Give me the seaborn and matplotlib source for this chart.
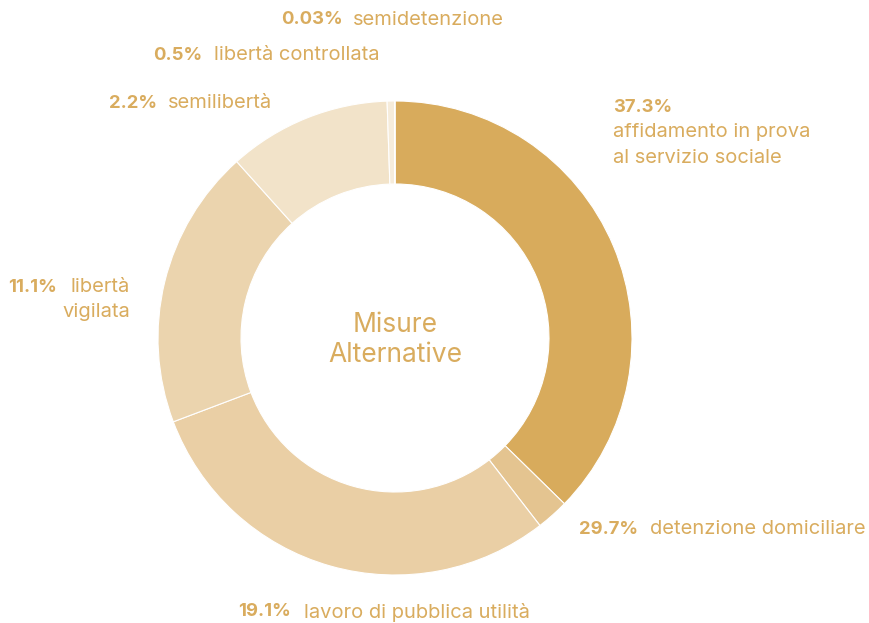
import numpy as np
import pandas as pd
import matplotlib
matplotlib.use("Agg")
import matplotlib.pyplot as plt
import seaborn as sns

# slice order as drawn clockwise from the top
slice_values = [37.3, 2.2, 29.7, 19.1, 11.1, 0.5, 0.03]
slice_colors = ["#D8AB5C", "#E4C490", "#EACFA5", "#EBD4AE", "#F2E3C9", "#F6ECDB", "#FBF6EE"]

# labels as printed on the chart
label_pct = ["37.3%", "29.7%", "19.1%", "11.1%", "2.2%", "0.5%", "0.03%"]
label_names = ["affidamento in prova\nal servizio sociale", "detenzione domiciliare",
               "lavoro di pubblica utilità", "libertà\nvigilata", "semilibertà",
               "libertà controllata", "semidetenzione"]
center_title = "Misure\nAlternative"

gold = "#D9AC5E"

sns.set_theme(style="white")
plt.rcParams['font.family'] = ['Inter', 'DejaVu Sans']

fig = plt.figure(figsize=(8.69, 6.23), dpi=100)
ax = fig.add_axes([0, 0, 1, 1])
cx, cy = 395, 338

ax.pie(slice_values, colors=slice_colors, radius=237, startangle=90, counterclock=False,
       wedgeprops=dict(width=83, edgecolor="white", linewidth=0.8))

ax.set_xlim(-cx, 869 - cx)
ax.set_ylim(-(623 - cy), cy)
ax.set_aspect("equal")
ax.axis("off")

def px(x, y):
    return x - cx, cy - y

fs_b = 13.3
fs_n = 14.5
# (bold end x, name start x, y) in pixels
places = [None, (638, 650, 529), (291, 304, 612), (57, 70, 287),
          (157, 168, 103), (202, 214, 55), (343, 353, 20)]
for i, (pct, name) in enumerate(zip(label_pct, label_names)):
    if i == 0:
        ax.text(*px(613, 107), pct, ha="left", va="center", fontsize=fs_b, fontweight="bold", color=gold)
        for k, line in enumerate(name.split("\n")):
            ax.text(*px(613, 132 + 26 * k), line, ha="left", va="center", fontsize=fs_n, color=gold)
        continue
    bx, nx, y = places[i]
    ax.text(*px(bx, y), pct, ha="right", va="center", fontsize=fs_b, fontweight="bold", color=gold)
    if "\n" in name:
        first, second = name.split("\n")
        ax.text(*px(130, y), first, ha="right", va="center", fontsize=fs_n, color=gold)
        ax.text(*px(130, y + 25), second, ha="right", va="center", fontsize=fs_n, color=gold)
    else:
        ax.text(*px(nx, y), name, ha="left", va="center", fontsize=fs_n, color=gold)

ax.text(*px(395, 325), center_title.split("\n")[0], ha="center", va="center", fontsize=19, color=gold)
ax.text(*px(395, 355), center_title.split("\n")[1], ha="center", va="center", fontsize=19, color=gold)

fig.savefig("out.png", dpi=100)
